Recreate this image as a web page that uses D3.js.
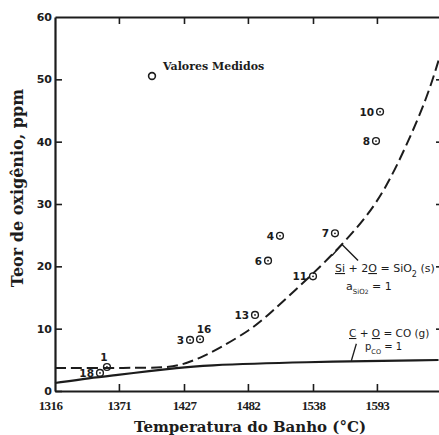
<!DOCTYPE html>
<html>
<head>
<meta charset="utf-8">
<script src="https://cdn.jsdelivr.net/npm/d3@7"></script>
<style>
  body { margin: 0; background: #fff; }
  svg { display: block; }
</style>
</head>
<body>
<script>
// tick labels (deg C, converted from 2400..3000 F)
var tempTicks = [1316, 1371, 1427, 1482, 1538, 1593];
var ppmTicks = [0, 10, 20, 30, 40, 50, 60];

// measured values (numbered heats)
var pointIds  = ["10", "8", "7", "4", "6", "11", "13", "3", "16", "1", "18"];
var pointTemp = [1595.7, 1592.2, 1556.9, 1509.6, 1499.3, 1538.0, 1488.1, 1432.2, 1440.8, 1360.7, 1354.7];
var pointPpm  = [44.8, 40.1, 25.3, 24.9, 20.9, 18.4, 12.2, 8.2, 8.3, 3.85, 2.9];

// Si + 2O = SiO2(s) equilibrium (dashed)
var siTemp = [1316, 1380, 1410, 1424, 1441, 1458, 1484, 1498, 1541.5, 1563, 1584.5, 1601.7, 1619, 1636, 1646];
var siPpm  = [3.7, 3.7, 3.75, 4.1, 5.3, 6.9, 9.8, 11.9, 19.4, 23.5, 28.0, 32.9, 39.6, 47.0, 53.0];

// C + O = CO(g) equilibrium (solid)
var coTemp = [1316, 1346, 1369, 1398, 1421, 1441, 1527, 1646];
var coPpm  = [1.28, 2.09, 2.57, 3.21, 3.69, 4.1, 4.65, 4.97];

var width = 439, height = 435;
var ink = "#1c1c1c";

var svg = d3.select("body").append("svg")
    .attr("width", width)
    .attr("height", height);

var x = d3.scaleLinear().domain([1316, 1649]).range([55, 442]);
var y = d3.scaleLinear().domain([0, 60]).range([391, 17]);

// axes, ticks pointing inwards
var gLeft = svg.append("g")
    .attr("transform", "translate(" + x(1316) + ",0)")
    .call(d3.axisLeft(y).tickValues(ppmTicks).tickSizeInner(-7).tickSizeOuter(0).tickPadding(3));
gLeft.selectAll("text")
    .style("font-family", "DejaVu Sans")
    .style("font-weight", "bold")
    .style("font-size", "11px");

var gBottom = svg.append("g")
    .attr("transform", "translate(0," + y(0) + ")")
    .call(d3.axisBottom(x).tickValues(tempTicks).tickFormat(d3.format("d")).tickSizeInner(-7).tickSizeOuter(0).tickPadding(10));
gBottom.selectAll("text")
    .style("font-family", "Liberation Serif")
    .style("font-weight", "bold")
    .style("font-size", "13px")
    .style("letter-spacing", "-0.6px");
gBottom.selectAll(".tick").filter(function(d) { return d === 1316; })
    .select("line").remove();
gBottom.selectAll(".tick").filter(function(d) { return d === 1316; })
    .select("text").attr("dx", "-5");

var gTop = svg.append("g")
    .attr("transform", "translate(0," + y(60) + ")")
    .call(d3.axisTop(x).tickValues(tempTicks.slice(1)).tickFormat("").tickSizeInner(-7).tickSizeOuter(0));

var gRight = svg.append("g")
    .attr("transform", "translate(" + x(1649) + ",0)")
    .call(d3.axisRight(y).tickValues(ppmTicks.slice(1, 6)).tickFormat("").tickSizeInner(-6).tickSizeOuter(0));

svg.selectAll(".domain").attr("stroke", ink).attr("stroke-width", 2.2);
svg.selectAll(".tick line").attr("stroke", ink).attr("stroke-width", 1.6);
svg.selectAll(".tick text").attr("fill", ink);

// y = 60 label sits on the top line
gLeft.selectAll(".tick").filter(function(d) { return d === 60; }).select("line").remove();

// curves
var siLine = d3.line()
    .x(function(d, i) { return x(siTemp[i]); })
    .y(function(d, i) { return y(siPpm[i]); })
    .curve(d3.curveBasis);
svg.append("path")
    .attr("d", siLine(siTemp))
    .attr("fill", "none")
    .attr("stroke", ink)
    .attr("stroke-width", 2)
    .attr("stroke-dasharray", "11,5");

var coLine = d3.line()
    .x(function(d, i) { return x(coTemp[i]); })
    .y(function(d, i) { return y(coPpm[i]); })
    .curve(d3.curveBasis);
svg.append("path")
    .attr("d", coLine(coTemp))
    .attr("fill", "none")
    .attr("stroke", ink)
    .attr("stroke-width", 2.2);

// points
var labelAbove = { "16": [4, -10], "1": [-3, -10] };
var pts = svg.append("g").selectAll("g")
    .data(pointIds)
    .enter().append("g")
    .attr("transform", function(d, i) { return "translate(" + x(pointTemp[i]) + "," + y(pointPpm[i]) + ")"; });
pts.append("circle")
    .attr("r", 3.4)
    .attr("fill", "none")
    .attr("stroke", ink)
    .attr("stroke-width", 1.4);
pts.append("circle")
    .attr("r", 0.9)
    .attr("fill", ink);
pts.append("text")
    .attr("x", function(d) { return labelAbove[d] ? labelAbove[d][0] : -6; })
    .attr("y", function(d) { return labelAbove[d] ? labelAbove[d][1] : 0; })
    .attr("dy", "0.36em")
    .attr("text-anchor", function(d) { return labelAbove[d] ? "middle" : "end"; })
    .style("font-family", "DejaVu Sans")
    .style("font-weight", "bold")
    .style("font-size", "10.5px")
    .attr("fill", ink)
    .text(function(d) { return d; });

// legend
svg.append("circle")
    .attr("cx", 152).attr("cy", 76).attr("r", 3.4)
    .attr("fill", "none").attr("stroke", ink).attr("stroke-width", 1.6);
svg.append("text")
    .attr("x", 163).attr("y", 70)
    .style("font-family", "DejaVu Serif")
    .style("font-weight", "bold")
    .style("font-size", "11px")
    .attr("fill", ink)
    .text("Valores Medidos");

// annotations
var chem = svg.append("g")
    .style("font-family", "DejaVu Sans")
    .style("font-size", "11px")
    .attr("fill", ink);

var apex = [x(siTemp[9]), y(siPpm[9])];
svg.append("path")
    .attr("d", "M" + (apex[0] - 10) + "," + (apex[1] + 11) + "L" + apex[0] + "," + apex[1] + "L" + (apex[0] + 16) + "," + (apex[1] + 16))
    .attr("fill", "none").attr("stroke", ink).attr("stroke-width", 1.4);

var t1 = chem.append("text").attr("x", 335).attr("y", 272);
t1.append("tspan").style("text-decoration", "underline").text("Si");
t1.append("tspan").text(" + 2");
t1.append("tspan").style("text-decoration", "underline").text("O");
t1.append("tspan").text(" = SiO");
t1.append("tspan").attr("baseline-shift", "sub").style("font-size", "8px").text("2");
t1.append("tspan").text(" (s)");

var t2 = chem.append("text").attr("x", 346).attr("y", 290);
t2.append("tspan").text("a");
t2.append("tspan").attr("baseline-shift", "sub").style("font-size", "7px").text("SiO");
t2.append("tspan").attr("baseline-shift", "sub").style("font-size", "6px").text("2");
t2.append("tspan").text(" = 1");

var t3 = chem.append("text").attr("x", 349).attr("y", 337).style("font-size", "10.5px");
t3.append("tspan").style("text-decoration", "underline").text("C");
t3.append("tspan").text(" + ");
t3.append("tspan").style("text-decoration", "underline").text("O");
t3.append("tspan").text(" = CO (g)");

var t4 = chem.append("text").attr("x", 365).attr("y", 350).style("font-size", "10px");
t4.append("tspan").text("p");
t4.append("tspan").attr("baseline-shift", "sub").style("font-size", "6.5px").text("CO");
t4.append("tspan").text(" = 1");

svg.append("line")
    .attr("x1", x(1571)).attr("y1", y(4.85))
    .attr("x2", x(1571) + 5).attr("y2", y(4.85) - 17)
    .attr("stroke", ink).attr("stroke-width", 1.3);

// axis titles
svg.append("text")
    .attr("x", 250).attr("y", 432)
    .attr("text-anchor", "middle")
    .style("font-family", "DejaVu Serif")
    .style("font-weight", "bold")
    .style("font-size", "15px")
    .attr("fill", ink)
    .text("Temperatura do Banho (°C)");

svg.append("text")
    .attr("transform", "translate(23,188) rotate(-90)")
    .attr("text-anchor", "middle")
    .style("font-family", "DejaVu Serif")
    .style("font-weight", "bold")
    .style("font-size", "16px")
    .attr("fill", ink)
    .text("Teor de oxigênio, ppm");
</script>
</body>
</html>
